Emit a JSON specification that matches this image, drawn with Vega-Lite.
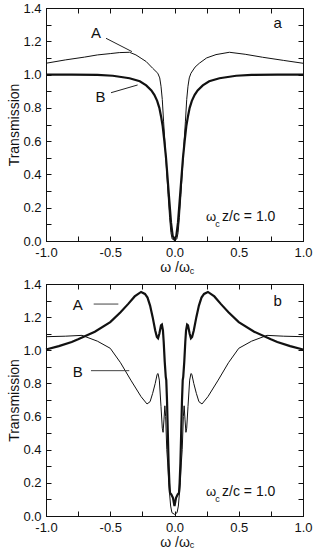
{
"$schema": "https://vega.github.io/schema/vega-lite/v6.json",
"padding": {"left": 7, "top": 1, "right": 8, "bottom": 0},
"autosize": {"type": "pad"},
"bounds": "flush",
"spacing": 43,
"datasets": {
"top": [
{"curve":"A","x":-1.0,"T":1.068},{"curve":"A","x":-0.85,"T":1.088},{"curve":"A","x":-0.7,"T":1.105},{"curve":"A","x":-0.6,"T":1.118},{"curve":"A","x":-0.5,"T":1.126},{"curve":"A","x":-0.43,"T":1.132},{"curve":"A","x":-0.35,"T":1.134},{"curve":"A","x":-0.3,"T":1.118},{"curve":"A","x":-0.26,"T":1.098},{"curve":"A","x":-0.22,"T":1.078},{"curve":"A","x":-0.17,"T":1.038},{"curve":"A","x":-0.13,"T":1.008},{"curve":"A","x":-0.115,"T":0.98},{"curve":"A","x":-0.105,"T":0.93},{"curve":"A","x":-0.095,"T":0.85},{"curve":"A","x":-0.085,"T":0.72},{"curve":"A","x":-0.075,"T":0.6},{"curve":"A","x":-0.062,"T":0.43},{"curve":"A","x":-0.05,"T":0.28},{"curve":"A","x":-0.038,"T":0.14},{"curve":"A","x":-0.028,"T":0.05},{"curve":"A","x":-0.018,"T":0.012},{"curve":"A","x":0,"T":0.005},{"curve":"A","x":0.018,"T":0.012},{"curve":"A","x":0.028,"T":0.05},{"curve":"A","x":0.038,"T":0.14},{"curve":"A","x":0.05,"T":0.28},{"curve":"A","x":0.062,"T":0.43},{"curve":"A","x":0.075,"T":0.6},{"curve":"A","x":0.085,"T":0.72},{"curve":"A","x":0.095,"T":0.85},{"curve":"A","x":0.105,"T":0.93},{"curve":"A","x":0.115,"T":0.98},{"curve":"A","x":0.128,"T":1.008},{"curve":"A","x":0.16,"T":1.045},{"curve":"A","x":0.193,"T":1.068},{"curve":"A","x":0.25,"T":1.1},{"curve":"A","x":0.323,"T":1.12},{"curve":"A","x":0.427,"T":1.134},{"curve":"A","x":0.55,"T":1.122},{"curve":"A","x":0.686,"T":1.104},{"curve":"A","x":0.85,"T":1.085},{"curve":"A","x":1.0,"T":1.068},
{"curve":"B","x":-1.0,"T":1.0},{"curve":"B","x":-0.8,"T":1.0},{"curve":"B","x":-0.6,"T":0.998},{"curve":"B","x":-0.48,"T":0.993},{"curve":"B","x":-0.35,"T":0.978},{"curve":"B","x":-0.27,"T":0.96},{"curve":"B","x":-0.22,"T":0.935},{"curve":"B","x":-0.18,"T":0.905},{"curve":"B","x":-0.157,"T":0.878},{"curve":"B","x":-0.135,"T":0.842},{"curve":"B","x":-0.118,"T":0.8},{"curve":"B","x":-0.105,"T":0.75},{"curve":"B","x":-0.092,"T":0.69},{"curve":"B","x":-0.079,"T":0.6},{"curve":"B","x":-0.066,"T":0.5},{"curve":"B","x":-0.053,"T":0.37},{"curve":"B","x":-0.04,"T":0.24},{"curve":"B","x":-0.027,"T":0.11},{"curve":"B","x":-0.014,"T":0.03},{"curve":"B","x":0,"T":0.01},{"curve":"B","x":0.014,"T":0.03},{"curve":"B","x":0.027,"T":0.11},{"curve":"B","x":0.04,"T":0.24},{"curve":"B","x":0.053,"T":0.37},{"curve":"B","x":0.066,"T":0.5},{"curve":"B","x":0.079,"T":0.6},{"curve":"B","x":0.092,"T":0.69},{"curve":"B","x":0.105,"T":0.75},{"curve":"B","x":0.118,"T":0.8},{"curve":"B","x":0.135,"T":0.842},{"curve":"B","x":0.157,"T":0.878},{"curve":"B","x":0.18,"T":0.905},{"curve":"B","x":0.22,"T":0.935},{"curve":"B","x":0.27,"T":0.96},{"curve":"B","x":0.35,"T":0.978},{"curve":"B","x":0.48,"T":0.993},{"curve":"B","x":0.6,"T":0.998},{"curve":"B","x":0.8,"T":1.0},{"curve":"B","x":1.0,"T":1.0}
],
"bottom": [
{"curve":"A","x":-1.0,"T":1.005},{"curve":"A","x":-0.9,"T":1.025},{"curve":"A","x":-0.8,"T":1.05},{"curve":"A","x":-0.75,"T":1.066},{"curve":"A","x":-0.62,"T":1.112},{"curve":"A","x":-0.5,"T":1.17},{"curve":"A","x":-0.42,"T":1.23},{"curve":"A","x":-0.36,"T":1.28},{"curve":"A","x":-0.31,"T":1.325},{"curve":"A","x":-0.26,"T":1.352},{"curve":"A","x":-0.23,"T":1.34},{"curve":"A","x":-0.21,"T":1.318},{"curve":"A","x":-0.19,"T":1.27},{"curve":"A","x":-0.17,"T":1.2},{"curve":"A","x":-0.15,"T":1.12},{"curve":"A","x":-0.137,"T":1.08},{"curve":"A","x":-0.128,"T":1.072},{"curve":"A","x":-0.118,"T":1.1},{"curve":"A","x":-0.105,"T":1.15},{"curve":"A","x":-0.098,"T":1.155},{"curve":"A","x":-0.09,"T":1.12},{"curve":"A","x":-0.084,"T":1.05},{"curve":"A","x":-0.076,"T":0.93},{"curve":"A","x":-0.068,"T":0.84},{"curve":"A","x":-0.064,"T":0.82},{"curve":"A","x":-0.058,"T":0.69},{"curve":"A","x":-0.052,"T":0.5},{"curve":"A","x":-0.046,"T":0.32},{"curve":"A","x":-0.04,"T":0.2},{"curve":"A","x":-0.035,"T":0.14},{"curve":"A","x":-0.025,"T":0.13},{"curve":"A","x":-0.012,"T":0.11},{"curve":"A","x":0,"T":0.06},{"curve":"A","x":0.012,"T":0.11},{"curve":"A","x":0.025,"T":0.13},{"curve":"A","x":0.035,"T":0.14},{"curve":"A","x":0.04,"T":0.2},{"curve":"A","x":0.046,"T":0.32},{"curve":"A","x":0.052,"T":0.5},{"curve":"A","x":0.058,"T":0.69},{"curve":"A","x":0.064,"T":0.82},{"curve":"A","x":0.068,"T":0.84},{"curve":"A","x":0.076,"T":0.93},{"curve":"A","x":0.084,"T":1.05},{"curve":"A","x":0.09,"T":1.12},{"curve":"A","x":0.098,"T":1.155},{"curve":"A","x":0.105,"T":1.15},{"curve":"A","x":0.118,"T":1.1},{"curve":"A","x":0.128,"T":1.072},{"curve":"A","x":0.137,"T":1.08},{"curve":"A","x":0.15,"T":1.12},{"curve":"A","x":0.17,"T":1.2},{"curve":"A","x":0.19,"T":1.27},{"curve":"A","x":0.21,"T":1.318},{"curve":"A","x":0.23,"T":1.34},{"curve":"A","x":0.26,"T":1.352},{"curve":"A","x":0.31,"T":1.325},{"curve":"A","x":0.36,"T":1.28},{"curve":"A","x":0.42,"T":1.23},{"curve":"A","x":0.5,"T":1.17},{"curve":"A","x":0.62,"T":1.112},{"curve":"A","x":0.75,"T":1.066},{"curve":"A","x":0.8,"T":1.05},{"curve":"A","x":0.9,"T":1.025},{"curve":"A","x":1.0,"T":1.005},
{"curve":"B","x":-1.0,"T":1.082},{"curve":"B","x":-0.85,"T":1.085},{"curve":"B","x":-0.72,"T":1.09},{"curve":"B","x":-0.6,"T":1.055},{"curve":"B","x":-0.5,"T":1.012},{"curve":"B","x":-0.42,"T":0.925},{"curve":"B","x":-0.34,"T":0.82},{"curve":"B","x":-0.26,"T":0.72},{"curve":"B","x":-0.214,"T":0.676},{"curve":"B","x":-0.19,"T":0.69},{"curve":"B","x":-0.17,"T":0.74},{"curve":"B","x":-0.15,"T":0.8},{"curve":"B","x":-0.135,"T":0.855},{"curve":"B","x":-0.128,"T":0.86},{"curve":"B","x":-0.118,"T":0.82},{"curve":"B","x":-0.105,"T":0.66},{"curve":"B","x":-0.095,"T":0.53},{"curve":"B","x":-0.089,"T":0.505},{"curve":"B","x":-0.082,"T":0.58},{"curve":"B","x":-0.075,"T":0.665},{"curve":"B","x":-0.069,"T":0.6},{"curve":"B","x":-0.06,"T":0.4},{"curve":"B","x":-0.053,"T":0.32},{"curve":"B","x":-0.045,"T":0.2},{"curve":"B","x":-0.04,"T":0.15},{"curve":"B","x":-0.03,"T":0.06},{"curve":"B","x":-0.02,"T":0.02},{"curve":"B","x":0,"T":0.01},{"curve":"B","x":0.02,"T":0.02},{"curve":"B","x":0.03,"T":0.06},{"curve":"B","x":0.04,"T":0.15},{"curve":"B","x":0.045,"T":0.2},{"curve":"B","x":0.053,"T":0.32},{"curve":"B","x":0.06,"T":0.4},{"curve":"B","x":0.069,"T":0.6},{"curve":"B","x":0.075,"T":0.665},{"curve":"B","x":0.082,"T":0.58},{"curve":"B","x":0.089,"T":0.505},{"curve":"B","x":0.095,"T":0.53},{"curve":"B","x":0.105,"T":0.66},{"curve":"B","x":0.118,"T":0.82},{"curve":"B","x":0.128,"T":0.86},{"curve":"B","x":0.135,"T":0.855},{"curve":"B","x":0.15,"T":0.8},{"curve":"B","x":0.17,"T":0.74},{"curve":"B","x":0.19,"T":0.69},{"curve":"B","x":0.214,"T":0.676},{"curve":"B","x":0.26,"T":0.72},{"curve":"B","x":0.34,"T":0.82},{"curve":"B","x":0.42,"T":0.925},{"curve":"B","x":0.5,"T":1.012},{"curve":"B","x":0.6,"T":1.055},{"curve":"B","x":0.72,"T":1.09},{"curve":"B","x":0.85,"T":1.085},{"curve":"B","x":1.0,"T":1.082}
],
"labelsTop": [{"x":-0.61,"T":1.248,"label":"A"},{"x":-0.575,"T":0.868,"label":"B"},{"x":0.803,"T":1.308,"label":"a"}],
"labelsBottom": [{"x":-0.753,"T":1.273,"label":"A"},{"x":-0.753,"T":0.871,"label":"B"},{"x":0.803,"T":1.30,"label":"b"}],
"leadersTop": [{"x":-0.533,"T":1.218,"x2":-0.331,"T2":1.138},{"x":-0.494,"T":0.891,"x2":-0.287,"T2":0.9375}],
"leadersBottom": [{"x":-0.629,"T":1.279,"x2":-0.437,"T2":1.279},{"x":-0.65,"T":0.877,"x2":-0.352,"T2":0.877}],
"annMain": [{"x":0.245,"T":0.12,"label":"ω"}],
"annRight": [{"x":0.785,"T":0.12,"label":"z/c = 1.0"}],
"annSub": [{"x":0.318,"T":0.083,"label":"c"},{"x":0.118,"T":-0.196,"label":"c"}]
},
"vconcat": [
{
"width": 257, "height": 233,
"resolve": {"axis": {"x": "independent", "y": "independent"}},
"layer": [
{"mark": {"type": "rule", "color": "#b4b4b4", "strokeWidth": 1},
 "encoding": {"y": {"datum": 1, "type": "quantitative", "scale": {"domain": [0, 1.4], "nice": false, "zero": false}, "axis": null}}},
{"data": {"name": "top"}, "transform": [{"filter": "datum.curve === 'A'"}],
 "mark": {"type": "line", "color": "#111", "strokeWidth": 1},
 "encoding": {
  "x": {"field": "x", "type": "quantitative", "scale": {"domain": [-1, 1], "nice": false, "zero": false},
        "axis": {"values": [-1,-0.75,-0.5,-0.25,0,0.25,0.5,0.75,1], "labelExpr": "abs(datum.value*2 - round(datum.value*2)) < 0.01 ? (datum.value < 0 ? '-' : '') + format(abs(datum.value), '.1f') : ''", "title": "ω /ω", "titlePadding": 1, "labelPadding": 10}},
  "y": {"field": "T", "type": "quantitative", "scale": {"domain": [0, 1.4], "nice": false, "zero": false},
        "axis": {"values": [0,0.1,0.2,0.3,0.4,0.5,0.6,0.7,0.8,0.9,1,1.1,1.2,1.3,1.4], "labelExpr": "abs(datum.value*5 - round(datum.value*5)) < 0.01 ? format(datum.value, '.1f') : ''", "title": "Transmission", "titlePadding": 1, "labelPadding": 10}}
 }},
{"data": {"name": "top"}, "transform": [{"filter": "datum.curve === 'B'"}],
 "mark": {"type": "line", "color": "#111", "strokeWidth": 2.2},
 "encoding": {
  "x": {"field": "x", "type": "quantitative", "scale": {"domain": [-1, 1], "nice": false, "zero": false}, "axis": null},
  "y": {"field": "T", "type": "quantitative", "scale": {"domain": [0, 1.4], "nice": false, "zero": false}, "axis": null}
 }},
{"data": {"name": "leadersTop"},
 "mark": {"type": "rule", "color": "#222", "strokeWidth": 1},
 "encoding": {
  "x": {"field": "x", "type": "quantitative", "scale": {"domain": [-1, 1], "nice": false, "zero": false}, "axis": null},
  "y": {"field": "T", "type": "quantitative", "scale": {"domain": [0, 1.4], "nice": false, "zero": false}, "axis": null},
  "x2": {"field": "x2"}, "y2": {"field": "T2"}
 }},
{"data": {"name": "labelsTop"},
 "mark": {"type": "text", "fontSize": 15, "color": "#111"},
 "encoding": {
  "x": {"field": "x", "type": "quantitative", "scale": {"domain": [-1, 1], "nice": false, "zero": false},
        "axis": {"orient": "top", "labels": false, "title": null, "values": [-1,-0.75,-0.5,-0.25,0,0.25,0.5,0.75,1]}},
  "y": {"field": "T", "type": "quantitative", "scale": {"domain": [0, 1.4], "nice": false, "zero": false},
        "axis": {"orient": "right", "labels": false, "title": null, "values": [0,0.1,0.2,0.3,0.4,0.5,0.6,0.7,0.8,0.9,1,1.1,1.2,1.3,1.4]}},
  "text": {"field": "label"}
 }},
{"data": {"name": "annMain"},
 "mark": {"type": "text", "fontSize": 13, "align": "left", "baseline": "alphabetic", "color": "#111"},
 "encoding": {
  "x": {"field": "x", "type": "quantitative", "scale": {"domain": [-1, 1], "nice": false, "zero": false}, "axis": null},
  "y": {"field": "T", "type": "quantitative", "scale": {"domain": [0, 1.4], "nice": false, "zero": false}, "axis": null},
  "text": {"field": "label"}
 }},
{"data": {"name": "annRight"},
 "mark": {"type": "text", "fontSize": 14, "align": "right", "baseline": "alphabetic", "color": "#111"},
 "encoding": {
  "x": {"field": "x", "type": "quantitative", "scale": {"domain": [-1, 1], "nice": false, "zero": false}, "axis": null},
  "y": {"field": "T", "type": "quantitative", "scale": {"domain": [0, 1.4], "nice": false, "zero": false}, "axis": null},
  "text": {"field": "label"}
 }},
{"data": {"name": "annSub"},
 "mark": {"type": "text", "fontSize": 9, "align": "left", "baseline": "alphabetic", "color": "#111"},
 "encoding": {
  "x": {"field": "x", "type": "quantitative", "scale": {"domain": [-1, 1], "nice": false, "zero": false}, "axis": null},
  "y": {"field": "T", "type": "quantitative", "scale": {"domain": [0, 1.4], "nice": false, "zero": false}, "axis": null},
  "text": {"field": "label"}
 }}
]
},
{
"width": 257, "height": 232,
"resolve": {"axis": {"x": "independent", "y": "independent"}},
"layer": [
{"mark": {"type": "rule", "color": "#b4b4b4", "strokeWidth": 1},
 "encoding": {"y": {"datum": 1, "type": "quantitative", "scale": {"domain": [0, 1.4], "nice": false, "zero": false}, "axis": null}}},
{"data": {"name": "bottom"}, "transform": [{"filter": "datum.curve === 'B'"}],
 "mark": {"type": "line", "color": "#111", "strokeWidth": 1},
 "encoding": {
  "x": {"field": "x", "type": "quantitative", "scale": {"domain": [-1, 1], "nice": false, "zero": false},
        "axis": {"values": [-1,-0.75,-0.5,-0.25,0,0.25,0.5,0.75,1], "labelExpr": "abs(datum.value*2 - round(datum.value*2)) < 0.01 ? (datum.value < 0 ? '-' : '') + format(abs(datum.value), '.1f') : ''", "title": "ω /ω", "titlePadding": 1, "labelPadding": 10}},
  "y": {"field": "T", "type": "quantitative", "scale": {"domain": [0, 1.4], "nice": false, "zero": false},
        "axis": {"values": [0,0.1,0.2,0.3,0.4,0.5,0.6,0.7,0.8,0.9,1,1.1,1.2,1.3,1.4], "labelExpr": "abs(datum.value*5 - round(datum.value*5)) < 0.01 ? format(datum.value, '.1f') : ''", "title": "Transmission", "titlePadding": 1, "labelPadding": 10}}
 }},
{"data": {"name": "bottom"}, "transform": [{"filter": "datum.curve === 'A'"}],
 "mark": {"type": "line", "color": "#111", "strokeWidth": 2.2},
 "encoding": {
  "x": {"field": "x", "type": "quantitative", "scale": {"domain": [-1, 1], "nice": false, "zero": false}, "axis": null},
  "y": {"field": "T", "type": "quantitative", "scale": {"domain": [0, 1.4], "nice": false, "zero": false}, "axis": null}
 }},
{"data": {"name": "leadersBottom"},
 "mark": {"type": "rule", "color": "#444", "strokeWidth": 1},
 "encoding": {
  "x": {"field": "x", "type": "quantitative", "scale": {"domain": [-1, 1], "nice": false, "zero": false}, "axis": null},
  "y": {"field": "T", "type": "quantitative", "scale": {"domain": [0, 1.4], "nice": false, "zero": false}, "axis": null},
  "x2": {"field": "x2"}, "y2": {"field": "T2"}
 }},
{"data": {"name": "labelsBottom"},
 "mark": {"type": "text", "fontSize": 15, "color": "#111"},
 "encoding": {
  "x": {"field": "x", "type": "quantitative", "scale": {"domain": [-1, 1], "nice": false, "zero": false},
        "axis": {"orient": "top", "labels": false, "title": null, "values": [-1,-0.75,-0.5,-0.25,0,0.25,0.5,0.75,1]}},
  "y": {"field": "T", "type": "quantitative", "scale": {"domain": [0, 1.4], "nice": false, "zero": false},
        "axis": {"orient": "right", "labels": false, "title": null, "values": [0,0.1,0.2,0.3,0.4,0.5,0.6,0.7,0.8,0.9,1,1.1,1.2,1.3,1.4]}},
  "text": {"field": "label"}
 }},
{"data": {"name": "annMain"},
 "mark": {"type": "text", "fontSize": 13, "align": "left", "baseline": "alphabetic", "color": "#111"},
 "encoding": {
  "x": {"field": "x", "type": "quantitative", "scale": {"domain": [-1, 1], "nice": false, "zero": false}, "axis": null},
  "y": {"field": "T", "type": "quantitative", "scale": {"domain": [0, 1.4], "nice": false, "zero": false}, "axis": null},
  "text": {"field": "label"}
 }},
{"data": {"name": "annRight"},
 "mark": {"type": "text", "fontSize": 14, "align": "right", "baseline": "alphabetic", "color": "#111"},
 "encoding": {
  "x": {"field": "x", "type": "quantitative", "scale": {"domain": [-1, 1], "nice": false, "zero": false}, "axis": null},
  "y": {"field": "T", "type": "quantitative", "scale": {"domain": [0, 1.4], "nice": false, "zero": false}, "axis": null},
  "text": {"field": "label"}
 }},
{"data": {"name": "annSub"},
 "mark": {"type": "text", "fontSize": 9, "align": "left", "baseline": "alphabetic", "color": "#111"},
 "encoding": {
  "x": {"field": "x", "type": "quantitative", "scale": {"domain": [-1, 1], "nice": false, "zero": false}, "axis": null},
  "y": {"field": "T", "type": "quantitative", "scale": {"domain": [0, 1.4], "nice": false, "zero": false}, "axis": null},
  "text": {"field": "label"}
 }}
]
}
],
"config": {
 "font": "Liberation Sans",
 "view": {"stroke": "#111", "strokeWidth": 1},
 "axis": {"grid": false, "domainColor": "#111", "tickColor": "#111", "labelColor": "#111", "titleColor": "#111",
          "labelFont": "Liberation Sans", "titleFont": "Liberation Sans", "labelFontSize": 13, "titleFontSize": 14,
          "titleFontWeight": "normal", "tickSize": -5, "labelOverlap": false, "labelFlush": false, "labelBound": false}
}
}
